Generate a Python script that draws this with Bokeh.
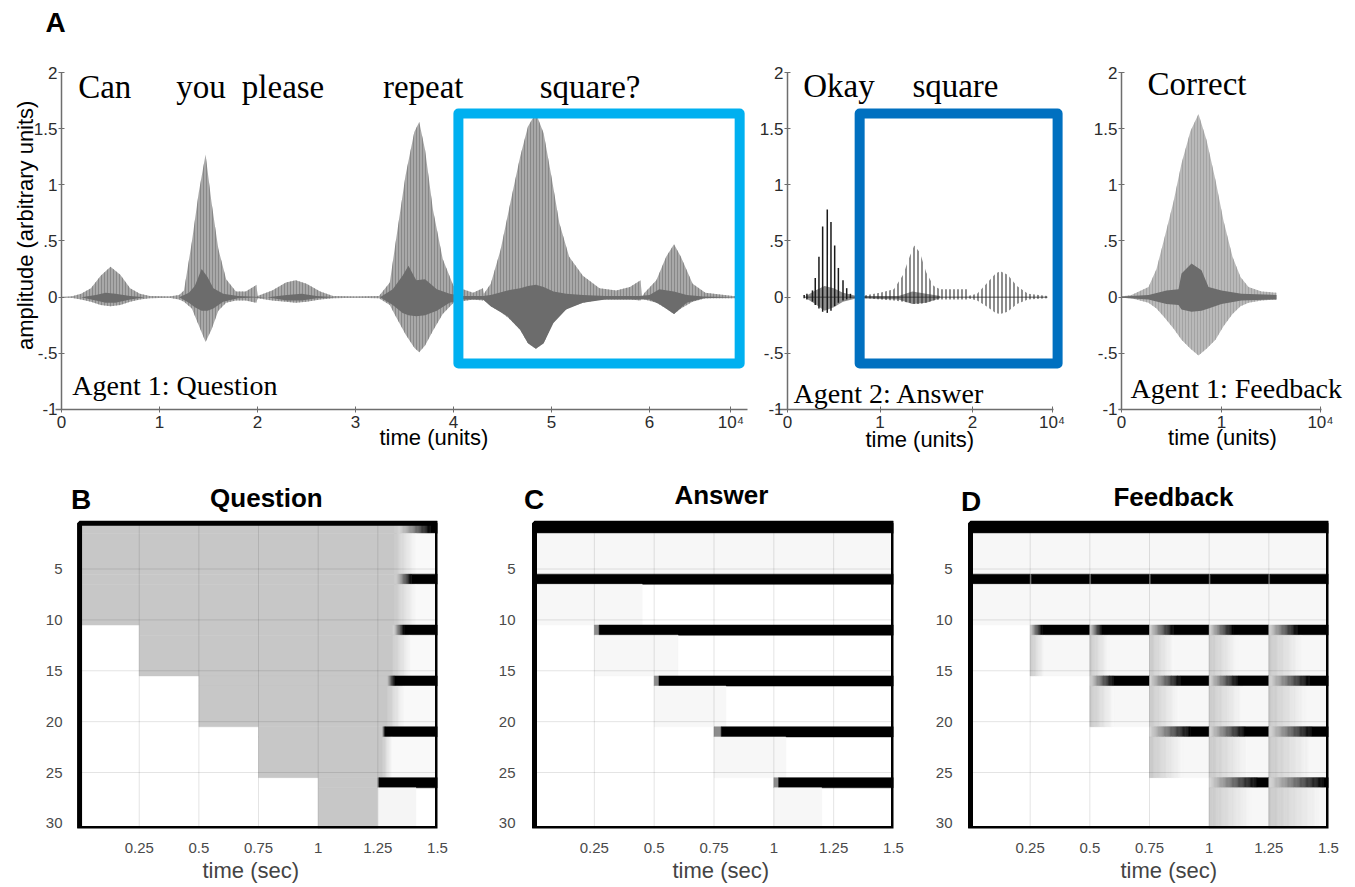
import numpy as np
from bokeh.plotting import figure
from bokeh.layouts import column, row
from bokeh.models import Range1d, FixedTicker, Label, BoxAnnotation, Title
from bokeh.embed import file_html
from bokeh.resources import INLINE

SANS = "Liberation Sans"
SERIF = "Liberation Serif"

# ---------------- Panel A data (time in 1e4 units, amplitude arbitrary) ----------------
# Agent 1: Question - outer (light) envelope
q_t = [0.0, 0.1, 0.2, 0.3, 0.4, 0.5, 0.6, 0.7, 0.8, 0.9, 1.1, 1.2, 1.25, 1.33, 1.40, 1.47, 1.53, 1.60, 1.68, 1.78,
       1.88, 1.99, 2.0, 2.15, 2.29, 2.39, 2.50, 2.64, 2.77, 3.0, 3.24, 3.35, 3.41, 3.51, 3.60, 3.65, 3.71, 3.79, 3.89, 4.0,
       4.2, 4.30, 4.31, 4.38, 4.48, 4.58, 4.68, 4.76, 4.84, 4.92, 5.0, 5.08, 5.18, 5.32, 5.49, 5.66, 5.80, 5.91, 5.92, 5.95,
       6.07, 6.17, 6.25, 6.32, 6.44, 6.57, 6.85, 6.95]
q_hi = [0.0, 0.005, 0.03, 0.08, 0.19, 0.27, 0.20, 0.08, 0.03, 0.01, 0.005, 0.02, 0.06, 0.49, 0.93, 1.27, 0.85, 0.43, 0.16, 0.05,
        0.05, 0.11, 0.01, 0.06, 0.13, 0.15, 0.12, 0.05, 0.01, 0.005, 0.01, 0.13, 0.49, 1.08, 1.47, 1.56, 1.31, 0.78, 0.34, 0.10,
        0.04, 0.08, 0.03, 0.12, 0.42, 0.84, 1.25, 1.52, 1.64, 1.46, 1.07, 0.66, 0.36, 0.19, 0.08, 0.06, 0.09, 0.15, 0.0, 0.04,
        0.15, 0.36, 0.47, 0.36, 0.12, 0.04, 0.01, 0.005]
q_lo = [0.0, -0.005, -0.02, -0.04, -0.07, -0.08, -0.07, -0.04, -0.02, -0.01, -0.005, -0.02, -0.04, -0.10, -0.25, -0.40, -0.29, -0.12, -0.05, -0.03,
        -0.03, -0.05, -0.01, -0.03, -0.04, -0.05, -0.04, -0.02, -0.01, -0.005, -0.01, -0.07, -0.17, -0.33, -0.45, -0.49, -0.43, -0.30, -0.15, -0.05,
        -0.02, -0.03, -0.02, -0.08, -0.13, -0.20, -0.29, -0.41, -0.46, -0.41, -0.25, -0.15, -0.09, -0.05, -0.02, -0.02, -0.02, -0.03, 0.0, -0.02,
        -0.05, -0.10, -0.15, -0.10, -0.04, -0.01, -0.01, -0.005]
# Agent 1: Question - dark core
qc_t = [0.2, 0.35, 0.45, 0.55, 0.7, 0.85, 1.2, 1.30, 1.36, 1.43, 1.49, 1.55, 1.65, 1.8, 2.1, 2.3, 2.45, 2.6, 2.8,
        3.25, 3.38, 3.48, 3.54, 3.62, 3.71, 3.83, 3.96, 4.1, 4.3, 4.38, 4.55, 4.68, 4.76, 4.84, 4.92, 5.02, 5.15, 5.32,
        5.55, 5.9, 6.0, 6.1, 6.25, 6.38, 6.55, 6.9]
qc_hi = [0, 0.02, 0.04, 0.03, 0.01, 0, 0, 0.04, 0.10, 0.25, 0.18, 0.08, 0.03, 0.01, 0, 0.02, 0.03, 0.01, 0,
         0, 0.07, 0.19, 0.28, 0.15, 0.16, 0.07, 0.03, 0.01, 0.01, 0.02, 0.06, 0.08, 0.10, 0.11, 0.09, 0.05, 0.03, 0.02,
         0.01, 0.01, 0.02, 0.07, 0.05, 0.02, 0.005, 0]
qc_lo = [0, -0.03, -0.05, -0.05, -0.02, 0, 0, -0.05, -0.09, -0.12, -0.12, -0.10, -0.04, -0.01, 0, -0.03, -0.03, -0.01, 0,
         0, -0.07, -0.14, -0.16, -0.17, -0.16, -0.12, -0.05, -0.02, -0.02, -0.08, -0.17, -0.29, -0.41, -0.46, -0.41, -0.23, -0.11, -0.05,
         -0.02, -0.02, -0.02, -0.06, -0.15, -0.05, -0.01, 0]

# Agent 2: Answer - "Okay" strokes
ok_t = [0.18, 0.21, 0.27, 0.30, 0.34, 0.38, 0.43, 0.47, 0.51, 0.55, 0.60, 0.64, 0.68]
ok_hi = [0.02, 0.03, 0.06, 0.17, 0.36, 0.63, 0.78, 0.67, 0.46, 0.26, 0.15, 0.08, 0.03]
ok_lo = [-0.01, -0.02, -0.04, -0.07, -0.10, -0.13, -0.14, -0.12, -0.08, -0.05, -0.03, -0.02, -0.01]
# Agent 2: Answer - "square" envelope
sq_t = [0.78, 0.86, 1.0, 1.15, 1.25, 1.32, 1.37, 1.43, 1.50, 1.58, 1.65, 1.94, 1.95, 2.05, 2.15, 2.25, 2.30, 2.38, 2.48, 2.6, 2.81]
sq_hi = [0.01, 0.02, 0.04, 0.07, 0.20, 0.36, 0.46, 0.40, 0.22, 0.10, 0.07, 0.07, 0.01, 0.03, 0.12, 0.21, 0.23, 0.20, 0.10, 0.03, 0.01]
sq_lo = [-0.01, -0.01, -0.02, -0.03, -0.04, -0.05, -0.06, -0.06, -0.05, -0.03, -0.02, -0.02, -0.01, -0.03, -0.08, -0.14, -0.15, -0.13, -0.06, -0.02, -0.01]
# Agent 2: Answer - dark core
ac_t = [0.2, 0.3, 0.4, 0.5, 0.6, 0.75, 1.2, 1.35, 1.5, 1.65]
ac_hi = [0.01, 0.06, 0.10, 0.08, 0.04, 0.01, 0.01, 0.05, 0.03, 0.01]
ac_lo = [-0.01, -0.06, -0.12, -0.09, -0.04, -0.01, -0.02, -0.06, -0.05, -0.01]

# Agent 1: Feedback
f_t = [0.0, 0.1, 0.27, 0.35, 0.43, 0.52, 0.60, 0.69, 0.77, 0.85, 0.94, 1.02, 1.11, 1.19, 1.27, 1.40, 1.55]
f_hi = [0.005, 0.02, 0.09, 0.25, 0.53, 0.85, 1.19, 1.48, 1.63, 1.40, 1.04, 0.68, 0.36, 0.18, 0.09, 0.05, 0.04]
f_lo = [-0.005, -0.01, -0.05, -0.10, -0.18, -0.28, -0.38, -0.46, -0.52, -0.46, -0.38, -0.26, -0.15, -0.08, -0.05, -0.03, -0.02]
fc_t = [0.0, 0.27, 0.45, 0.57, 0.60, 0.70, 0.80, 0.87, 1.0, 1.2, 1.55]
fc_hi = [0.005, 0.02, 0.06, 0.07, 0.21, 0.30, 0.24, 0.09, 0.06, 0.03, 0.02]
fc_lo = [-0.005, -0.02, -0.06, -0.07, -0.11, -0.13, -0.12, -0.10, -0.06, -0.03, -0.02]

# words
q_words = ["Can", "you", "please", "repeat", "square?"]
q_word_t = [0.17, 1.17, 1.84, 3.28, 4.88]
a_words = ["Okay", "square"]
a_word_t = [0.17, 1.35]
f_words = ["Correct"]
f_word_t = [0.26]

# axis ticks
y_ticks = [-1, -0.5, 0, 0.5, 1, 1.5, 2]
y_tick_labels = ["-1", "-.5", "0", ".5", "1", "1.5", "2"]
q_xticks = [0, 1, 2, 3, 4, 5, 6, 6.83]
q_xlabels = ["0", "1", "2", "3", "4", "5", "6", "10\u2074"]
a_xticks = [0, 1, 2, 2.86]
a_xlabels = ["0", "1", "2", "10\u2074"]
f_xticks = [0, 1, 1.99]
f_xlabels = ["0", "1", "10\u2074"]

# ---------------- Panels B-D data (neurons 1..30 in 6 blocks of 5, time in s) ----------------
N_ROWS = 30
T_END = 1.5
h_xticks = [0.25, 0.5, 0.75, 1.0, 1.25, 1.5]
h_xlabels = ["0.25", "0.5", "0.75", "1", "1.25", "1.5"]
h_yticks = [5, 10, 15, 20, 25, 30]
GREY = 0.78
# Question
q_grey_start = [0.0, 0.0, 0.25, 0.5, 0.75, 1.0]
q_grey_end = [1.32, 1.32, 1.31, 1.29, 1.27, 1.25]
q_fade_end = [1.41, 1.41, 1.39, 1.36, 1.31, 1.25]
q_tail_level = [0.975, 0.975, 0.975, 0.975, 0.975, 0.96]
q_tail_end = [1.5, 1.5, 1.5, 1.5, 1.5, 1.41]
q_bar_fade_start = [1.34, 1.33, 1.32, 1.29, 1.27, 1.25]
q_bar_full = [1.47, 1.39, 1.36, 1.32, 1.28, 1.255]
# Answer
a_bar_start = [0.0, 0.0, 0.27, 0.52, 0.78, 1.02]
a_light_start = [0.0, 0.0, 0.25, 0.5, 0.75, 1.0]
a_light_end = [1.5, 0.45, 0.6, 0.8, 1.05, 1.2]
# Feedback
d_onset_col = [0, 0, 1, 2, 3, 4]
d_ramp = [[0, 0, 0, 0, 0, 0],
          [0, 0.006, 0.006, 0.006, 0.006, 0.006],
          [0, 0.05, 0.05, 0.10, 0.10, 0.12],
          [0, 0, 0.10, 0.13, 0.12, 0.17],
          [0, 0, 0, 0.17, 0.15, 0.18],
          [0, 0, 0, 0, 0.20, 0.23]]
d_bg_fade = [[0, 0, 0, 0, 0, 0],
             [0, 0, 0, 0, 0, 0],
             [0, 0.06, 0.08, 0.10, 0.12, 0.14],
             [0, 0, 0.10, 0.12, 0.14, 0.16],
             [0, 0, 0, 0.14, 0.16, 0.18],
             [0, 0, 0, 0, 0.18, 0.22]]


def q_profile(b, first, t):
    gs, ge, fe = q_grey_start[b], q_grey_end[b], q_fade_end[b]
    if t < gs:
        v = 1.0
    elif t < ge:
        v = GREY
    elif t < fe:
        v = GREY + (q_tail_level[b] - GREY) * (t - ge) / (fe - ge)
    elif t < q_tail_end[b]:
        v = q_tail_level[b]
    else:
        v = 1.0
    if first and t >= q_bar_fade_start[b]:
        s = min(1.0, (t - q_bar_fade_start[b]) / max(q_bar_full[b] - q_bar_fade_start[b], 1e-6))
        v = v * (1 - s)
    return v


def a_profile(b, first, t):
    if first:
        if t >= a_bar_start[b]:
            return 0.0
        if t >= a_light_start[b]:
            return 0.55
        return 1.0
    return 0.97 if a_light_start[b] <= t < a_light_end[b] else 1.0


def d_profile(b, first, t):
    k = min(int(t / 0.25), 5)
    c0 = k * 0.25
    if k < d_onset_col[b]:
        return 1.0
    if first:
        ramp = d_ramp[b][k]
        s = 1.0 if ramp <= 0 else min(1.0, (t - c0) / ramp)
        return 0.85 * (1 - s)
    if b < 2:
        return 0.97
    s = min(1.0, (t - c0) / d_bg_fade[b][k])
    return GREY + (0.97 - GREY) * s


BIN = 0.005
t_cent = (np.arange(int(round(T_END / BIN))) + 0.5) * BIN


def add_heat(p, profile):
    L, R, T, B, C = [], [], [], [], []
    for b in range(N_ROWS // 5):
        for first in (True, False):
            r0 = b * 5 + 1 if first else b * 5 + 2
            r1 = b * 5 + 1 if first else b * 5 + 5
            vals = [int(round(255 * min(1.0, max(0.0, profile(b, first, t))))) for t in t_cent]
            i = 0
            while i < len(vals):
                j = i
                while j + 1 < len(vals) and vals[j + 1] == vals[i]:
                    j += 1
                if vals[i] < 255:
                    L.append(i * BIN)
                    R.append((j + 1) * BIN)
                    T.append(r0 - 0.5)
                    B.append(r1 + 0.5)
                    C.append("#%02x%02x%02x" % (vals[i], vals[i], vals[i]))
                i = j + 1
    p.quad(left=L, right=R, top=T, bottom=B, fill_color=C, line_color=C, line_width=0.5)
    # grid lines over the map
    gx = h_xticks[:-1]
    p.segment(x0=gx, x1=gx, y0=[0.5] * len(gx), y1=[N_ROWS + 0.5] * len(gx),
              line_color="black", line_alpha=0.11, line_width=1)
    gy = h_yticks[:-1]
    p.segment(x0=[0] * len(gy), x1=[T_END] * len(gy), y0=gy, y1=gy,
              line_color="black", line_alpha=0.11, line_width=1)
    # thick frame
    p.quad(left=[0], right=[T_END], top=[0.5], bottom=[N_ROWS + 0.5], fill_color=None,
           line_color="black", line_width=5)


def lab(p, x, y, text, size, font=SANS, style="normal", align="left", baseline="alphabetic",
        angle=0.0, color="black"):
    p.add_layout(Label(x=x, y=y, text=text, text_font=font, text_font_size=f"{size}px",
                       text_font_style=style, text_align=align, text_baseline=baseline,
                       angle=angle, text_color=color))


def below_title(p, text, offset):
    p.add_layout(Title(text=text, align="left", offset=offset, text_font=SANS, text_font_size="22px",
                       text_font_style="normal", standoff=0), "below")


TOP_H = 460
Y2_PX = 72          # pixel row of amplitude 2
PXY = 112.33        # pixels per amplitude unit


def wave_fig(width, t0_px, px_per, xbounds, xticks, xlabels):
    p = figure(width=width, height=TOP_H,
               x_range=Range1d(-t0_px / px_per, (width - t0_px) / px_per),
               y_range=Range1d(2 - (TOP_H - Y2_PX) / PXY, 2 + Y2_PX / PXY),
               output_backend="svg", toolbar_location=None,
               min_border_left=0, min_border_right=0, min_border_top=0, min_border_bottom=0)
    p.outline_line_color = None
    p.xgrid.visible = False
    p.ygrid.visible = False
    p.xaxis.fixed_location = -1
    p.yaxis.fixed_location = 0
    p.xaxis.bounds = xbounds
    p.yaxis.bounds = (-1, 2)
    p.yaxis.ticker = FixedTicker(ticks=y_ticks)
    p.yaxis.major_label_overrides = dict(zip(y_ticks, y_tick_labels))
    p.xaxis.ticker = FixedTicker(ticks=xticks)
    p.xaxis.major_label_overrides = dict(zip(xticks, xlabels))
    for ax in (p.xaxis[0], p.yaxis[0]):
        ax.axis_line_color = "#6e6e6e"
        ax.axis_line_width = 1.5
        ax.major_tick_line_color = "#6e6e6e"
        ax.major_tick_in = 3
        ax.major_tick_out = 3
        ax.minor_tick_line_color = None
        ax.major_label_text_font = SANS
        ax.major_label_text_font_size = "17px"
        ax.major_label_text_color = "#2b2b2b"
        ax.major_label_standoff = 1
    return p


def wave_layers(p, t, hi, lo, ct, chi, clo, light, hatch):
    p.varea(x=t, y1=lo, y2=hi, fill_color=light, hatch_pattern="vertical_line",
            hatch_color=hatch, hatch_scale=3, hatch_weight=0.8, hatch_alpha=0.9)
    p.varea(x=ct, y1=clo, y2=chi, fill_color="#6c6c6c")


# ---- A1 question
a1 = wave_fig(751, 61, 98.0, (-0.06, 7.0), q_xticks, q_xlabels)
a1.segment(x0=[q_t[0]], y0=[0], x1=[q_t[-1]], y1=[0], line_color="#9a9a9a", line_width=1)
wave_layers(a1, q_t, q_hi, q_lo, qc_t, qc_hi, qc_lo, "#a8a8a8", "#7c7c7c")
a1.add_layout(BoxAnnotation(left=4.05, right=6.92, top=1.635, bottom=-0.59, fill_alpha=0,
                            line_color="#00B0F0", line_alpha=1.0, line_width=10, line_join="round"))
for w, t in zip(q_words, q_word_t):
    lab(a1, t, 1.87, w, 33, font=SERIF)
lab(a1, 0.11, -0.786, "Agent 1: Question", 28, font=SERIF)
lab(a1, -0.163, 2.445, "A", 28, style="bold")
lab(a1, -0.367, 0.64, "amplitude (arbitrary units)", 22, align="center", baseline="middle", angle=np.pi / 2)
lab(a1, 3.80, -1.25, "time (units)", 22, align="center")

# ---- A2 answer
a2 = wave_fig(324, 36, 92.5, (-0.13, 2.88), a_xticks, a_xlabels)
a2.segment(x0=[ok_t[0]], y0=[0], x1=[sq_t[-1]], y1=[0], line_color="#555555", line_width=1)
a2.varea(x=ac_t, y1=ac_lo, y2=ac_hi, fill_color="#333333", fill_alpha=0.55)
a2.varea(x=sq_t, y1=sq_lo, y2=sq_hi, fill_color="white", fill_alpha=0.0, hatch_pattern="vertical_line",
         hatch_color="#1e1e1e", hatch_scale=4, hatch_weight=1.2, hatch_alpha=0.85)
a2.segment(x0=ok_t, y0=ok_lo, x1=ok_t, y1=ok_hi, line_color="#1a1a1a", line_width=1.5)
a2.add_layout(BoxAnnotation(left=0.78, right=2.92, top=1.635, bottom=-0.59, fill_alpha=0,
                            line_color="#0070C0", line_alpha=1.0, line_width=10, line_join="round"))
for w, t in zip(a_words, a_word_t):
    lab(a2, t, 1.88, w, 33, font=SERIF)
lab(a2, 0.065, -0.86, "Agent 2: Answer", 28, font=SERIF)
lab(a2, 1.43, -1.27, "time (units)", 22, align="center")

# ---- A3 feedback
a3 = wave_fig(280, 46, 100.0, (-0.03, 2.0), f_xticks, f_xlabels)
wave_layers(a3, f_t, f_hi, f_lo, fc_t, fc_hi, fc_lo, "#b9b9b9", "#9a9a9a")
for w, t in zip(f_words, f_word_t):
    lab(a3, t, 1.90, w, 33, font=SERIF)
lab(a3, 0.09, -0.81, "Agent 1: Feedback", 28, font=SERIF)
lab(a3, 1.01, -1.25, "time (units)", 22, align="center")


# ---- heatmaps
def heat_fig(width, left, right, x0, title_offset):
    p = figure(width=width, height=427, x_range=Range1d(x0, T_END), y_range=Range1d(N_ROWS + 0.5, -3.8),
               output_backend="svg", toolbar_location=None,
               min_border_left=left, min_border_right=right, min_border_top=19, min_border_bottom=59)
    p.outline_line_color = None
    p.xgrid.visible = False
    p.ygrid.visible = False
    p.xaxis.ticker = FixedTicker(ticks=h_xticks)
    p.xaxis.major_label_overrides = dict(zip(h_xticks, h_xlabels))
    p.yaxis.ticker = FixedTicker(ticks=h_yticks)
    for ax in (p.xaxis[0], p.yaxis[0]):
        ax.axis_line_color = None
        ax.major_tick_line_color = None
        ax.minor_tick_line_color = None
        ax.major_label_text_font = SANS
        ax.major_label_text_font_size = "15px"
        ax.major_label_text_color = "#4a4a4a"
    p.yaxis.major_label_standoff = 2
    p.xaxis.major_label_standoff = 8
    below_title(p, "time (sec)", title_offset)
    return p


hb = heat_fig(470, 70, 33, -0.038, 132)
add_heat(hb, q_profile)
lab(hb, -0.036, -1.88, "B", 28, style="bold")
lab(hb, 0.783, -1.97, "Question", 26, style="bold", align="center")

hc = heat_fig(435, 53, 12, -0.046, 149)
add_heat(hc, a_profile)
lab(hc, -0.044, -1.88, "C", 28, style="bold")
lab(hc, 0.781, -2.27, "Answer", 26, style="bold", align="center")

hd = heat_fig(450, 55, 27, -0.042, 160)
add_heat(hd, d_profile)
lab(hd, -0.040, -1.6, "D", 28, style="bold")
lab(hd, 0.85, -2.07, "Feedback", 26, style="bold", align="center")

layout = column(row(a1, a2, a3), row(hb, hc, hd))
open("out.html", "w").write(file_html(layout, INLINE))
